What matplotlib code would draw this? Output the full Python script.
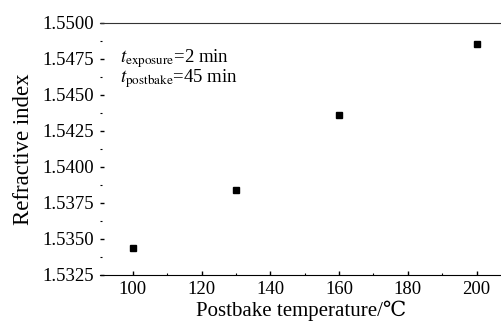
import matplotlib
matplotlib.use('Agg')
import matplotlib.pyplot as plt
from matplotlib.ticker import MultipleLocator, FormatStrFormatter

# data
temperature = [100, 130, 160, 200]
refractive_index = [1.5344, 1.5384, 1.5436, 1.5485]

plt.rcParams['font.family'] = ['Liberation Serif', 'DejaVu Serif']
plt.rcParams['mathtext.fontset'] = 'stix'

fig = plt.figure(figsize=(5.02, 3.22), dpi=100)
ax = fig.add_axes([0.199, 0.146, 0.801, 0.784])

ax.plot(temperature, refractive_index, 's', color='black', markersize=5)

ax.set_xlim(90.4, 207.4)
ax.set_ylim(1.5325, 1.5500)
ax.xaxis.set_major_locator(MultipleLocator(20))
ax.xaxis.set_minor_locator(MultipleLocator(10))
ax.yaxis.set_major_locator(MultipleLocator(0.0025))
ax.yaxis.set_minor_locator(MultipleLocator(0.00125))
ax.yaxis.set_major_formatter(FormatStrFormatter('%.4f'))

ax.spines['left'].set_visible(False)
ax.spines['right'].set_visible(False)
ax.spines['top'].set_color('#333333')
ax.tick_params(which='major', direction='in', length=3, width=1, labelsize=13.5, pad=4)
ax.tick_params(which='minor', direction='in', length=1.5, width=0.8)
ax.tick_params(top=False, right=False)

ax.set_xlabel('Postbake temperature/\u2103', fontsize=15, labelpad=2.5)
ax.set_ylabel('Refractive index', fontsize=16.5, labelpad=6)

ax.text(0.05, 0.902, r'$t_{\mathrm{exposure}}$=2 min' + '\n' + r'$t_{\mathrm{postbake}}$=45 min',
        transform=ax.transAxes, fontsize=13.5, va='top', linespacing=0.78)

fig.savefig('out.png', dpi=100)
